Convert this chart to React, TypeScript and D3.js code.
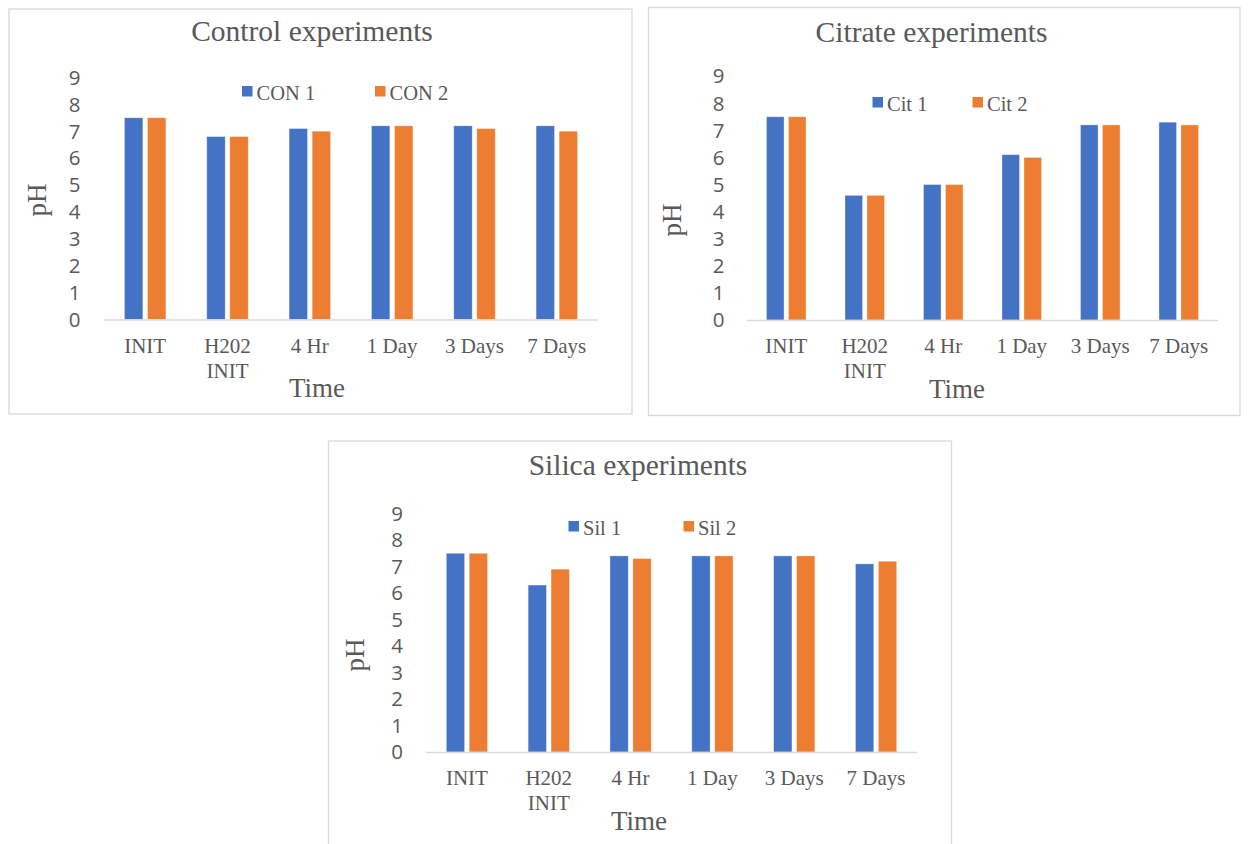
import React from "react";
import * as d3 from "d3";

// Sampling times (multi-line labels split on "\n")
const categories = ["INIT", "H202\nINIT", "4 Hr", "1 Day", "3 Days", "7 Days"];
const yTicks = [0, 1, 2, 3, 4, 5, 6, 7, 8, 9];

// pH readings per replicate
const controlNames = ["CON 1", "CON 2"];
const control1 = [7.5, 6.8, 7.1, 7.2, 7.2, 7.2];
const control2 = [7.5, 6.8, 7.0, 7.2, 7.1, 7.0];

const citrateNames = ["Cit 1", "Cit 2"];
const citrate1 = [7.5, 4.6, 5.0, 6.1, 7.2, 7.3];
const citrate2 = [7.5, 4.6, 5.0, 6.0, 7.2, 7.2];

const silicaNames = ["Sil 1", "Sil 2"];
const silica1 = [7.5, 6.3, 7.4, 7.4, 7.4, 7.1];
const silica2 = [7.5, 6.9, 7.3, 7.4, 7.4, 7.2];

const COLORS = ["#4472C4", "#ED7D31"];
const TEXT = "#595959";
const SERIF = "'Liberation Serif', 'Times New Roman', serif";
const SANS = "'Open Sans', 'Noto Sans', sans-serif";

type Layout = {
  box: { x: number; y: number; w: number; h: number };
  left: number;
  right: number;
  base: number;
  top: number;
  titleX: number;
  titleY: number;
  legendX: [number, number];
  legendY: number;
  labelRight: number;
  labelY: number;
  pHX: number;
  pHY: number;
  timeX: number;
  timeY: number;
};

function Panel({
  title,
  names,
  series,
  L,
}: {
  title: string;
  names: string[];
  series: number[][];
  L: Layout;
}) {
  const x0 = d3
    .scaleBand<string>()
    .domain(categories)
    .range([L.left, L.right])
    .paddingInner(0.496)
    .paddingOuter(0.248);
  const x1 = d3
    .scaleBand<number>()
    .domain([0, 1])
    .range([0, x0.bandwidth()])
    .paddingInner(0.2);
  const y = d3.scaleLinear().domain([0, 9]).range([L.base, L.top]);

  return (
    <g>
      <rect
        x={L.box.x}
        y={L.box.y}
        width={L.box.w}
        height={L.box.h}
        fill="#fff"
        stroke="#d9d9d9"
        strokeWidth={1.3}
      />
      <text
        x={L.titleX}
        y={L.titleY}
        textAnchor="middle"
        fontFamily={SERIF}
        fontSize={29.5}
        fill={TEXT}
      >
        {title}
      </text>
      {/* legend */}
      {names.map((n, i) => (
        <g key={n}>
          <rect
            x={L.legendX[i]}
            y={L.legendY - 14}
            width={10.5}
            height={10.5}
            fill={COLORS[i]}
          />
          <text
            x={L.legendX[i] + 14.5}
            y={L.legendY}
            fontFamily={SERIF}
            fontSize={20.5}
            fill={TEXT}
          >
            {n}
          </text>
        </g>
      ))}
      {/* y tick labels */}
      {yTicks.map((t) => (
        <text
          key={t}
          x={L.labelRight}
          y={y(t)}
          dy="0.36em"
          textAnchor="end"
          fontFamily={SANS}
          fontSize={20.5}
          fill={TEXT}
        >
          {t}
        </text>
      ))}
      {/* bars */}
      {series.map((vals, si) =>
        vals.map((v, ci) => (
          <rect
            key={`${si}-${ci}`}
            x={(x0(categories[ci]) as number) + (x1(si) as number)}
            y={y(v)}
            width={x1.bandwidth()}
            height={y(0) - y(v)}
            fill={COLORS[si]}
            stroke="#ffffff"
            strokeOpacity={0.45}
            strokeWidth={0.8}
          />
        ))
      )}
      <line
        x1={L.left}
        x2={L.right}
        y1={L.base + 0.5}
        y2={L.base + 0.5}
        stroke="#d9d9d9"
        strokeWidth={1.6}
      />
      {/* category labels */}
      {categories.map((c) => {
        const cx = (x0(c) as number) + x0.bandwidth() / 2;
        return c.split("\n").map((line, li) => (
          <text
            key={c + li}
            x={cx}
            y={L.labelY + li * 24.5}
            textAnchor="middle"
            fontFamily={SERIF}
            fontSize={21}
            fill={TEXT}
          >
            {line}
          </text>
        ));
      })}
      <text
        transform={`translate(${L.pHX},${L.pHY}) rotate(-90)`}
        textAnchor="middle"
        fontFamily={SERIF}
        fontSize={27}
        fill={TEXT}
      >
        pH
      </text>
      <text
        x={L.timeX}
        y={L.timeY}
        textAnchor="middle"
        fontFamily={SERIF}
        fontSize={27}
        fill={TEXT}
      >
        Time
      </text>
    </g>
  );
}

const controlLayout: Layout = {
  box: { x: 9, y: 9, w: 623, h: 405 },
  left: 104,
  right: 598,
  base: 319.5,
  top: 77.4,
  titleX: 312,
  titleY: 41,
  legendX: [242, 375],
  legendY: 100,
  labelRight: 80.5,
  labelY: 353,
  pHX: 46,
  pHY: 200,
  timeX: 317,
  timeY: 397,
};

const citrateLayout: Layout = {
  box: { x: 648.5, y: 7.5, w: 591.5, h: 408 },
  left: 747,
  right: 1218,
  base: 320,
  top: 76.1,
  titleX: 931.5,
  titleY: 41.5,
  legendX: [872.5, 972.5],
  legendY: 111,
  labelRight: 724.5,
  labelY: 353,
  pHX: 681,
  pHY: 220,
  timeX: 957,
  timeY: 398,
};

const silicaLayout: Layout = {
  box: { x: 328.5, y: 441, w: 623, h: 410 },
  left: 426,
  right: 917,
  base: 752,
  top: 513.5,
  titleX: 638,
  titleY: 475,
  legendX: [568.5, 683.5],
  legendY: 535,
  labelRight: 403,
  labelY: 785,
  pHX: 364,
  pHY: 655,
  timeX: 639,
  timeY: 830,
};

export default function App() {
  return (
    <svg
      width={1251}
      height={844}
      style={{ position: "absolute", left: 0, top: 0, background: "#fff" }}
    >
      <rect width={1251} height={844} fill="#fff" />
      <Panel
        title="Control experiments"
        names={controlNames}
        series={[control1, control2]}
        L={controlLayout}
      />
      <Panel
        title="Citrate experiments"
        names={citrateNames}
        series={[citrate1, citrate2]}
        L={citrateLayout}
      />
      <Panel
        title="Silica experiments"
        names={silicaNames}
        series={[silica1, silica2]}
        L={silicaLayout}
      />
    </svg>
  );
}
